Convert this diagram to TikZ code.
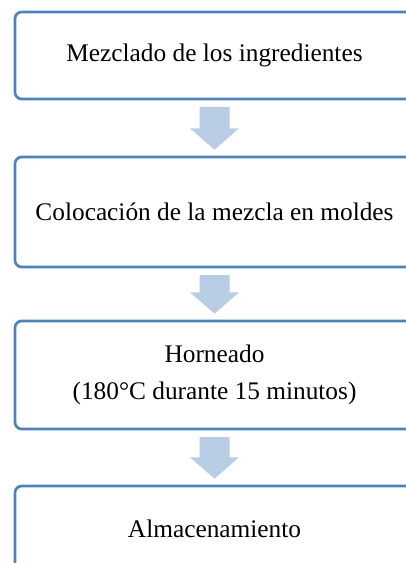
\documentclass[tikz,border=0pt]{standalone}
\usepackage{fontspec}
\setmainfont{Liberation Serif}
\usetikzlibrary{positioning, calc}
\definecolor{boxblue}{HTML}{4F81BD}
\definecolor{arrowblue}{HTML}{B9CDE5}

\begin{document}
\begin{tikzpicture}[
  font=\fontsize{19}{27.75}\selectfont,
  stepbox/.style={draw=boxblue, line width=2pt, rounded corners=5pt, align=center, minimum width=299.25pt, outer sep=0pt, inner sep=0pt},
  blockarrow/.style={fill=arrowblue, draw=none, to path={let \p1=(\tikztostart), \p2=(\tikztotarget) in
    (\x1-11.25pt,\y1-6pt) -- (\x1+11.25pt,\y1-6pt) -- (\x1+11.25pt,\y2+21.5pt) -- (\x1+18.4pt,\y2+21.5pt)
    -- (\x1,\y2+5.5pt) -- (\x1-18.4pt,\y2+21.5pt) -- (\x1-11.25pt,\y2+21.5pt) -- cycle}}
]
\useasboundingbox (0,0) rectangle (304.5pt,-422.25pt);

% ===== Steps =====
\node[stepbox, minimum height=65.25pt, anchor=north west] (mezclado) at (11.25pt,-9pt)
{Mezclado de los ingredientes};

\node[stepbox, minimum height=82.5pt, below=43.5pt of mezclado] (moldes)
{Colocación de la mezcla en moldes};

\node[stepbox, minimum height=81pt, below=40.5pt of moldes] (horneado)
{Horneado\\(180°C durante 15 minutos)};

\node[stepbox, minimum height=64pt, below=42.75pt of horneado] (almacen)
{Almacenamiento};

% ===== Flow =====
\path[blockarrow] (mezclado.south) to (moldes.north);
\path[blockarrow] (moldes.south) to (horneado.north);
\path[blockarrow] (horneado.south) to (almacen.north);

\end{tikzpicture}
\end{document}
